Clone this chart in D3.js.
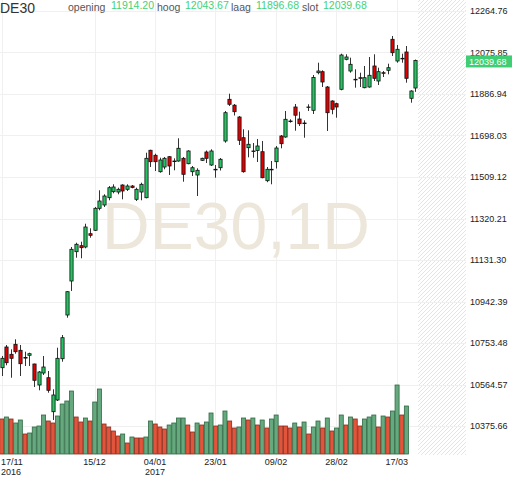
<!DOCTYPE html>
<html><head><meta charset="utf-8">
<script src="https://cdn.jsdelivr.net/npm/d3@7"></script>
<style>
html,body{margin:0;padding:0;background:#fff;}
svg{display:block;font-family:"Liberation Sans",Arial,sans-serif;}
</style></head>
<body><svg id="c" width="512" height="477"></svg>
<script>
// ---- DATA ----
const dates = [
"2016-11-17","2016-11-18","2016-11-21","2016-11-22","2016-11-23","2016-11-24","2016-11-25","2016-11-28","2016-11-29","2016-11-30",
"2016-12-01","2016-12-02","2016-12-05","2016-12-06","2016-12-07","2016-12-08","2016-12-09","2016-12-12","2016-12-13","2016-12-14",
"2016-12-15","2016-12-16","2016-12-19","2016-12-20","2016-12-21","2016-12-22","2016-12-23","2016-12-27","2016-12-28","2016-12-29",
"2016-12-30","2017-01-02","2017-01-03","2017-01-04","2017-01-05","2017-01-06","2017-01-09","2017-01-10","2017-01-11","2017-01-12",
"2017-01-13","2017-01-16","2017-01-17","2017-01-18","2017-01-19","2017-01-20","2017-01-23","2017-01-24","2017-01-25","2017-01-26",
"2017-01-27","2017-01-30","2017-01-31","2017-02-01","2017-02-02","2017-02-03","2017-02-06","2017-02-07","2017-02-08","2017-02-09",
"2017-02-10","2017-02-13","2017-02-14","2017-02-15","2017-02-16","2017-02-17","2017-02-20","2017-02-21","2017-02-22","2017-02-23",
"2017-02-24","2017-02-27","2017-02-28","2017-03-01","2017-03-02","2017-03-03","2017-03-06","2017-03-07","2017-03-08","2017-03-09",
"2017-03-10","2017-03-13","2017-03-14","2017-03-15","2017-03-16","2017-03-17","2017-03-20","2017-03-21","2017-03-22","2017-03-23"];

const opens = [10641.0,10735.3,10702.0,10747.5,10720.2,10687.5,10697.5,10657.9,10562.3,10616.9,
10595.5,10440.7,10494.0,10682.0,10880.9,11035.7,11169.1,11196.4,11190.5,11251.0,
11266.5,11366.6,11381.7,11414.9,11442.2,11440.8,11472.7,11453.1,11468.1,11407.6,
11440.8,11414.9,11630.7,11607.9,11533.2,11554.6,11601.5,11581.9,11581.9,11594.2,
11569.7,11533.2,11518.2,11585.1,11622.9,11563.7,11544.2,11551.4,11673.0,11862.8,
11836.0,11782.2,11688.0,11642.5,11627.5,11629.7,11624.3,11492.3,11544.2,11578.8,
11695.8,11691.2,11764.0,11827.8,11773.1,11754.9,11826.4,11812.7,11983.9,11988.5,
11918.8,11855.1,11842.8,11908.3,12044.9,11991.6,11953.9,11961.1,11915.6,11918.8,
12014.4,11946.1,11983.9,11994.8,12135.9,12037.2,12049.4,12078.1,11867.4,11914.20];
const highs = [10694.3,10744.4,10724.8,10770.3,10744.4,10713.9,10709.3,10659.2,10626.0,10694.3,
10626.0,10542.7,10732.1,10789.9,10990.2,11190.5,11210.0,11214.6,11296.5,11275.6,
11372.6,11448.6,11430.4,11468.1,11475.9,11460.4,11475.9,11475.9,11472.7,11460.4,
11483.2,11619.7,11633.4,11615.2,11597.0,11600.2,11604.7,11594.2,11685.3,11600.2,
11630.7,11559.2,11548.7,11597.0,11629.7,11635.2,11563.7,11595.6,11809.6,11888.3,
11841.4,11786.8,11726.3,11721.7,11663.9,11682.1,11673.0,11554.6,11581.9,11650.2,
11700.3,11809.6,11771.8,11841.4,11806.4,11767.2,11840.1,11973.4,12029.4,11994.8,
11923.4,11858.3,11847.3,12070.4,12067.7,12052.2,11999.4,11983.9,12014.4,12055.4,
12067.7,12006.7,11991.6,12024.9,12151.0,12110.0,12070.4,12105.4,11903.8,12043.67];
const lows = [10603.2,10652.0,10595.5,10704.8,10603.2,10648.8,10648.8,10553.2,10538.2,10607.8,
10527.2,10403.0,10489.4,10668.3,10868.6,10990.2,11141.8,11139.0,11184.6,11232.8,
11263.3,11357.5,11372.6,11403.1,11434.9,11430.4,11407.6,11445.4,11457.7,11399.9,
11403.1,11412.2,11554.6,11536.4,11528.7,11544.2,11518.2,11539.6,11578.8,11487.7,
11566.9,11513.7,11422.6,11581.9,11572.8,11559.2,11505.9,11538.7,11665.3,11832.3,
11789.1,11654.8,11528.7,11598.8,11597.0,11577.4,11503.2,11485.4,11475.9,11547.8,
11639.8,11688.0,11756.3,11719.9,11741.3,11688.0,11809.6,11795.9,11976.6,11918.8,
11718.5,11794.5,11779.1,11903.8,12040.3,11983.9,11915.6,11918.8,11912.9,11915.6,
11946.1,11927.9,11964.3,11976.6,12059.9,12029.4,12029.4,11938.4,11847.3,11896.68];
const closes = [10683.8,10663.8,10683.8,10713.9,10659.2,10686.1,10704.8,10583.7,10621.5,10644.2,
10538.2,10516.8,10683.8,10777.6,10987.0,11180.0,11202.8,11187.3,11281.5,11243.7,
11366.6,11399.9,11422.6,11460.4,11463.6,11453.1,11445.4,11468.1,11461.3,11453.1,
11475.9,11594.2,11578.8,11578.8,11586.5,11594.2,11559.2,11580.6,11639.8,11521.4,
11627.5,11551.4,11539.6,11594.2,11594.2,11627.5,11543.3,11589.7,11801.8,11840.1,
11806.4,11676.2,11533.2,11658.0,11626.1,11650.2,11505.9,11544.2,11543.3,11641.1,
11660.7,11771.8,11763.1,11790.4,11751.7,11754.0,11827.8,11962.0,11991.6,11941.6,
11801.8,11817.3,11827.8,12064.5,12055.4,12022.1,11952.9,11960.2,11961.1,11972.1,
11958.4,11988.5,11983.0,12006.7,12074.9,12090.4,12048.5,11958.4,11900.6,12039.68];

// volume (x1000) and its colour direction (1 = up, 0 = down); last two sessions have no bar
const volumes = [35,37,35,31,34,20,21,27,28,39, 33,31,38,50,53,63,37,32,36,33,
52,65,30,27,23,18,20,11,17,16, 16,17,33,30,27,25,29,31,36,36,
29,22,31,29,32,41,28,29,43,33, 26,27,36,34,36,29,34,26,35,39,
28,28,26,31,27,32,20,27,33,26, 36,23,26,39,29,37,35,28,35,37,
39,27,38,37,43,69,39,48];
const volUp = [0,1,0,1,1,0,1,1,1,1, 0,0,1,1,1,1,0,0,1,0, 1,1,0,0,0,0,1,0,1,0,
0,1,1,0,0,0,1,1,1,1, 0,0,1,0,1,1,0,1,1,0, 0,1,1,0,1,0,1,0,1,1,
0,0,0,1,0,1,0,1,1,0, 1,0,1,1,0,1,0,0,1,1, 1,0,1,0,1,1,0,1];

const yTicks = [12264.76,12075.85,11886.94,11698.03,11509.12,11320.21,11131.30,10942.39,10753.48,10564.57,10375.66];
const xTickDates = ["2016-11-17","2016-12-15","2017-01-04","2017-01-23","2017-02-09","2017-02-28","2017-03-17"];
const xTickLabels = ["17/11","15/12","04/01","23/01","09/02","28/02","17/03"];
const xYearLabels = ["2016","","2017","","","",""];

const symbol = "DE30";
const watermark = "DE30,1D";
const infoLabels = ["opening","hoog","laag","slot"];
const last = dates.length-1;
const infoValues = [opens[last],highs[last],lows[last],closes[last]];

// ---- DRAW ----
const svg = d3.select("#c");
const plotRight = 418, axisX = 466, volBase = 454;

const x = d3.scaleBand().domain(dates).range([-0.8, 417.8]).paddingInner(0).paddingOuter(0);
const y = d3.scaleLinear().domain([10375.66, 12264.76]).range([426, 11]);
const yv = d3.scaleLinear().domain([0, 100]).range([volBase, volBase-100]);
const bw = x.bandwidth();
const cx = d => x(d) + bw/2;

// hatch pattern for the future area
const defs = svg.append("defs");
const pat = defs.append("pattern").attr("id","hatch").attr("patternUnits","userSpaceOnUse")
  .attr("width",4).attr("height",4);
pat.append("path").attr("d","M-1,1 l2,-2 M0,4 l4,-4 M3,5 l2,-2")
  .attr("stroke","#e4e4e4").attr("stroke-width",1);
svg.append("rect").attr("x",plotRight).attr("y",0).attr("width",axisX-plotRight).attr("height",volBase+1)
  .attr("fill","url(#hatch)");

// grid
svg.append("g").selectAll("line").data(yTicks).join("line")
  .attr("x1",0).attr("x2",axisX).attr("y1",d=>Math.round(y(d))+0.5).attr("y2",d=>Math.round(y(d))+0.5)
  .attr("stroke","#f0f0f0");
svg.append("g").selectAll("line").data(xTickDates).join("line")
  .attr("x1",d=>Math.round(cx(d))+0.5).attr("x2",d=>Math.round(cx(d))+0.5)
  .attr("y1",0).attr("y2",volBase+1).attr("stroke","#f0f0f0");

// watermark
svg.append("text").attr("x",236).attr("y",249).attr("text-anchor","middle")
  .attr("font-size",66).attr("fill","#ece7da").text(watermark);

// volume
svg.append("g").selectAll("rect").data(volumes).join("rect")
  .attr("x",(v,i)=>x(dates[i])+0.5).attr("width",bw-0.6)
  .attr("y",v=>yv(v)).attr("height",v=>volBase-yv(v))
  .attr("fill",(v,i)=>volUp[i]?"#66a97e":"#e1553c")
  .attr("stroke",(v,i)=>volUp[i]?"#2e6a44":"#8e2a1b").attr("stroke-width",0.8);

// candles
const cg = svg.append("g").selectAll("g").data(dates).join("g");
cg.append("line")
  .attr("x1",(d)=>Math.round(cx(d))+0.5).attr("x2",(d)=>Math.round(cx(d))+0.5)
  .attr("y1",(d,i)=>y(highs[i])).attr("y2",(d,i)=>y(lows[i]))
  .attr("stroke","#333").attr("stroke-width",1);
cg.append("rect")
  .attr("x",d=>Math.round(cx(d))+0.5-1.6).attr("width",3.2)
  .attr("y",(d,i)=>y(Math.max(opens[i],closes[i])))
  .attr("height",(d,i)=>Math.max(0.6, Math.abs(y(opens[i])-y(closes[i]))))
  .attr("fill",(d,i)=>closes[i]>=opens[i]?"#25c462":"#e00000")
  .attr("stroke","#111").attr("stroke-width",0.8);

// y axis labels
svg.append("g").selectAll("text").data(yTicks).join("text")
  .attr("x",470).attr("y",d=>y(d)+3.2).attr("font-size",9).attr("fill","#222")
  .text(d=>d.toFixed(2));

// current price tag
const lastY = y(closes[last]);
svg.append("rect").attr("x",466).attr("y",lastY-5).attr("width",46).attr("height",12).attr("fill","#3fce73");
svg.append("text").attr("x",469).attr("y",lastY+4.2).attr("font-size",9).attr("fill","#fff")
  .text(closes[last].toFixed(2));

// x axis labels
const xl = svg.append("g");
xTickDates.forEach((d,k)=>{
  const px = cx(d);
  const first = k===0;
  xl.append("text").attr("x",first?1:px).attr("y",465).attr("text-anchor",first?"start":"middle")
    .attr("font-size",9).attr("fill","#222").text(xTickLabels[k]);
  if (xYearLabels[k]) xl.append("text").attr("x",first?1:px).attr("y",474.5)
    .attr("text-anchor",first?"start":"middle").attr("font-size",9).attr("fill","#222").text(xYearLabels[k]);
});

// header
svg.append("text").attr("x",0).attr("y",12.5).attr("font-size",14).attr("fill","#333").text(symbol);
const hx = [68,157,231,302];
const vx = [111,185,256,323];
infoLabels.forEach((l,k)=>{
  svg.append("text").attr("x",hx[k]).attr("y",11).attr("font-size",10.5).attr("fill","#555").text(l);
  svg.append("text").attr("x",vx[k]).attr("y",8.5).attr("font-size",10.5).attr("fill","#3fd27a")
    .text(infoValues[k].toFixed(2));
});
</script></body></html>
